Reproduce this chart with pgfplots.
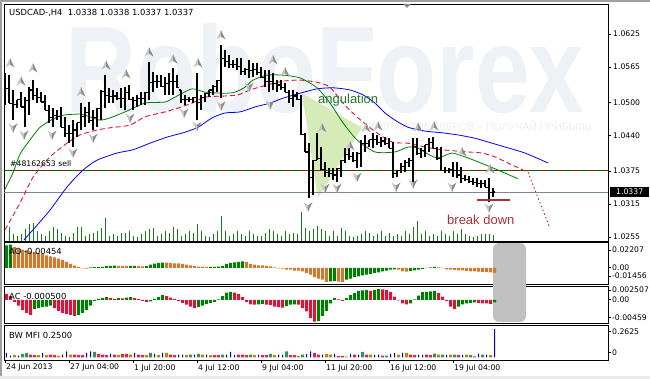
\documentclass[border=0pt]{standalone}
\usepackage{fontspec}
\setmainfont{DejaVu Sans}
\newfontfamily\arialf{Liberation Sans}
\usepackage{pgfplots}
\pgfplotsset{compat=1.18}
\usepackage{pgfplotstable}

\newcommand\lblfont{\fontsize{7.7}{9}\selectfont}
\newcommand\ttlfont{\fontsize{8.4}{10}\selectfont}

\definecolor{mtgreen}{HTML}{008000}
\definecolor{aoorange}{HTML}{D2782F}
\definecolor{accrim}{HTML}{DC143C}
\definecolor{mfigreen}{HTML}{3C8F5A}
\definecolor{mfibrown}{HTML}{B8860B}
\definecolor{mfiblue}{HTML}{000099}
\definecolor{mficrim}{HTML}{DC2450}
\definecolor{teeth}{HTML}{DC143C}
\definecolor{jaw}{HTML}{0000FF}
\definecolor{lips}{HTML}{008000}
\definecolor{bidline}{HTML}{778899}
\definecolor{ordgreen}{HTML}{006400}
\definecolor{ordred}{HTML}{CC0000}
\definecolor{bdred}{HTML}{A83232}
\definecolor{angtri}{HTML}{D6ECB8}
\definecolor{angtxt}{HTML}{2A7A2A}
\definecolor{wm}{HTML}{EEF1F5}
\definecolor{wmtwo}{HTML}{ECEFF3}
\definecolor{grayrect}{HTML}{C0C0C0}
\definecolor{fracl}{HTML}{C4C4C4}
\definecolor{fracd}{HTML}{8E8E8E}
\definecolor{volgreen}{HTML}{1A7A1A}
\definecolor{slate}{HTML}{7B8A9A}
\definecolor{outer}{HTML}{A0A0A0}

\pgfdeclareplotmark{fractup}{%
 \pgfsetfillcolor{fracl}%
 \pgfpathmoveto{\pgfqpoint{0pt}{5pt}}\pgfpathlineto{\pgfqpoint{-4.5pt}{-4.5pt}}\pgfpathlineto{\pgfqpoint{0pt}{-1.5pt}}\pgfpathclose\pgfusepathqfill
 \pgfsetfillcolor{fracd}%
 \pgfpathmoveto{\pgfqpoint{0pt}{5pt}}\pgfpathlineto{\pgfqpoint{4.5pt}{-4.5pt}}\pgfpathlineto{\pgfqpoint{0pt}{-1.5pt}}\pgfpathclose\pgfusepathqfill}
\pgfdeclareplotmark{fractdn}{%
 \pgfsetfillcolor{fracl}%
 \pgfpathmoveto{\pgfqpoint{0pt}{-5pt}}\pgfpathlineto{\pgfqpoint{-4.5pt}{4.5pt}}\pgfpathlineto{\pgfqpoint{0pt}{1.5pt}}\pgfpathclose\pgfusepathqfill
 \pgfsetfillcolor{fracd}%
 \pgfpathmoveto{\pgfqpoint{0pt}{-5pt}}\pgfpathlineto{\pgfqpoint{4.5pt}{4.5pt}}\pgfpathlineto{\pgfqpoint{0pt}{1.5pt}}\pgfpathclose\pgfusepathqfill}

\pgfplotsset{panel/.style={scale only axis, width=604pt, xmin=-0.25, xmax=150.75,
  axis line style={black, line width=0.8pt}, xtick=\empty, ytick=\empty}}

\pgfplotstableread{
i o h l c
0 1.0514 1.0554 1.0496 1.0525
1 1.0525 1.0550 1.0499 1.0499
2 1.0499 1.0523 1.0468 1.0497
3 1.0497 1.0505 1.0490 1.0505
4 1.0505 1.0519 1.0492 1.0492
5 1.0492 1.0510 1.0455 1.0503
6 1.0503 1.0528 1.0477 1.0523
7 1.0523 1.0541 1.0505 1.0513
8 1.0513 1.0527 1.0499 1.0510
9 1.0510 1.0519 1.0501 1.0501
10 1.0501 1.0514 1.0486 1.0486
11 1.0486 1.0496 1.0463 1.0473
12 1.0473 1.0490 1.0455 1.0477
13 1.0477 1.0486 1.0468 1.0474
14 1.0474 1.0492 1.0455 1.0455
15 1.0455 1.0474 1.0437 1.0443
16 1.0443 1.0459 1.0426 1.0444
17 1.0444 1.0468 1.0419 1.0450
18 1.0450 1.0463 1.0437 1.0463
19 1.0463 1.0499 1.0450 1.0474
20 1.0474 1.0492 1.0455 1.0482
21 1.0482 1.0501 1.0463 1.0468
22 1.0468 1.0486 1.0450 1.0473
23 1.0473 1.0490 1.0455 1.0490
24 1.0490 1.0523 1.0468 1.0520
25 1.0520 1.0550 1.0490 1.0513
26 1.0513 1.0527 1.0499 1.0511
27 1.0511 1.0523 1.0499 1.0512
28 1.0512 1.0519 1.0505 1.0508
29 1.0508 1.0527 1.0490 1.0507
30 1.0507 1.0528 1.0486 1.0518
31 1.0518 1.0532 1.0505 1.0505
32 1.0505 1.0510 1.0486 1.0503
33 1.0503 1.0514 1.0492 1.0507
34 1.0507 1.0519 1.0496 1.0507
35 1.0507 1.0519 1.0496 1.0519
36 1.0519 1.0574 1.0505 1.0537
37 1.0537 1.0556 1.0519 1.0538
38 1.0538 1.0550 1.0527 1.0539
39 1.0539 1.0550 1.0528 1.0530
40 1.0530 1.0547 1.0514 1.0534
41 1.0534 1.0554 1.0514 1.0538
42 1.0538 1.0563 1.0514 1.0538
43 1.0538 1.0550 1.0527 1.0527
44 1.0523 1.0523 1.0499 1.0505
45 1.0505 1.0514 1.0496 1.0506
46 1.0506 1.0510 1.0501 1.0505
47 1.0505 1.0510 1.0499 1.0510
48 1.0510 1.0554 1.0468 1.0500
49 1.0500 1.0514 1.0486 1.0509
50 1.0509 1.0517 1.0501 1.0517
51 1.0517 1.0523 1.0510 1.0523
52 1.0523 1.0532 1.0514 1.0530
53 1.0530 1.0541 1.0519 1.0541
54 1.0541 1.0605 1.0508 1.0580
55 1.0580 1.0596 1.0565 1.0575
56 1.0575 1.0587 1.0563 1.0570
57 1.0570 1.0578 1.0563 1.0570
58 1.0570 1.0581 1.0559 1.0566
59 1.0566 1.0581 1.0550 1.0557
60 1.0557 1.0563 1.0550 1.0561
61 1.0561 1.0578 1.0545 1.0559
62 1.0559 1.0572 1.0547 1.0561
63 1.0561 1.0572 1.0550 1.0555
64 1.0555 1.0565 1.0545 1.0545
65 1.0545 1.0559 1.0528 1.0539
66 1.0539 1.0559 1.0519 1.0538
67 1.0538 1.0554 1.0523 1.0534
68 1.0534 1.0541 1.0519 1.0532
69 1.0532 1.0541 1.0523 1.0527
70 1.0527 1.0536 1.0519 1.0519
71 1.0519 1.0523 1.0499 1.0507
72 1.0507 1.0523 1.0492 1.0512
73 1.0512 1.0519 1.0505 1.0505
74 1.0505 1.0514 1.0441 1.0441
75 1.0441 1.0445 1.0410 1.0410
76 1.0410 1.0426 1.0326 1.0363
77 1.0363 1.0395 1.0331 1.0395
78 1.0395 1.0445 1.0395 1.0398
79 1.0398 1.0419 1.0377 1.0378
80 1.0378 1.0392 1.0364 1.0372
81 1.0372 1.0381 1.0364 1.0370
82 1.0370 1.0381 1.0359 1.0368
83 1.0368 1.0381 1.0355 1.0380
84 1.0380 1.0395 1.0364 1.0395
85 1.0395 1.0417 1.0390 1.0406
86 1.0406 1.0417 1.0395 1.0401
87 1.0401 1.0410 1.0392 1.0395
88 1.0395 1.0410 1.0381 1.0407
89 1.0407 1.0432 1.0383 1.0425
90 1.0425 1.0441 1.0410 1.0425
91 1.0425 1.0432 1.0419 1.0432
92 1.0432 1.0445 1.0417 1.0432
93 1.0432 1.0441 1.0423 1.0428
94 1.0428 1.0437 1.0419 1.0430
95 1.0430 1.0437 1.0423 1.0426
96 1.0426 1.0435 1.0417 1.0417
97 1.0417 1.0428 1.0362 1.0371
98 1.0371 1.0377 1.0364 1.0377
99 1.0377 1.0390 1.0372 1.0384
100 1.0384 1.0395 1.0373 1.0391
101 1.0391 1.0399 1.0383 1.0394
102 1.0394 1.0435 1.0353 1.0420
103 1.0420 1.0435 1.0404 1.0408
104 1.0408 1.0417 1.0399 1.0412
105 1.0412 1.0423 1.0401 1.0423
106 1.0423 1.0435 1.0410 1.0427
107 1.0427 1.0437 1.0417 1.0417
108 1.0417 1.0419 1.0395 1.0398
109 1.0398 1.0419 1.0377 1.0377
110 1.0377 1.0383 1.0372 1.0376
111 1.0376 1.0381 1.0372 1.0378
112 1.0378 1.0392 1.0364 1.0377
113 1.0377 1.0392 1.0362 1.0368
114 1.0368 1.0383 1.0353 1.0362
115 1.0362 1.0368 1.0357 1.0360
116 1.0360 1.0366 1.0353 1.0356
117 1.0356 1.0362 1.0350 1.0354
118 1.0354 1.0362 1.0346 1.0352
119 1.0352 1.0359 1.0344 1.0352
120 1.0352 1.0359 1.0346 1.0346
121 1.0346 1.0362 1.0319 1.0336
122 1.0336 1.0344 1.0328 1.0337
}\ohlc

\pgfplotstableread{
i v
0 6500
1 7000
2 3500
3 2500
4 3500
5 6000
6 8500
7 9000
8 5000
9 3500
10 2500
11 5000
12 7000
13 6000
14 4000
15 2500
16 2000
17 4000
18 7000
19 7000
20 2500
21 3500
22 4000
23 5000
24 6500
25 11500
26 2500
27 3500
28 2500
29 4000
30 4000
31 5000
32 2500
33 2000
34 3500
35 5000
36 6000
37 6500
38 2500
39 3500
40 5000
41 4000
42 7000
43 6000
44 2500
45 3500
46 5000
47 4000
48 8500
49 5000
50 2500
51 2000
52 3500
53 5000
54 12500
55 5000
56 2500
57 3500
58 5000
59 3500
60 2500
61 5000
62 3500
63 2500
64 2500
65 4000
66 6000
67 5000
68 3500
69 2500
70 5000
71 3500
72 4000
73 3500
74 14500
75 6500
76 5000
77 6000
78 7500
79 6000
80 5000
81 2500
82 5000
83 2500
84 6500
85 5000
86 2500
87 2000
88 2500
89 3500
90 5000
91 4000
92 2500
93 3500
94 5000
95 2500
96 4000
97 2500
98 3500
99 2500
100 5000
101 3500
102 7000
103 10000
104 3500
105 5000
106 2500
107 3500
108 2500
109 5000
110 3500
111 2500
112 5000
113 3500
114 6000
115 3500
116 2500
117 2000
118 2500
119 3500
120 3500
121 3500
122 3000
}\vol

\begin{document}
\begin{tikzpicture}
\useasboundingbox (0pt,0pt) rectangle (650pt,379pt);
\fill[white] (0pt,0pt) rectangle (650pt,379pt);
\fill[outer] (0pt,377pt) rectangle (650pt,379pt);
\fill[outer] (0pt,0pt) rectangle (1.5pt,379pt);
\fill[black!8] (0pt,0pt) rectangle (650pt,3pt);

% watermark
\node[anchor=base west, inner sep=0pt, text=wm, font=\arialf\bfseries\fontsize{123}{123}\selectfont, xscale=0.8] at (65pt,266pt) {RoboForex};
\node[anchor=east, inner sep=0pt, text=wmtwo, font=\arialf\fontsize{10.5}{12}\selectfont] at (592pt,252pt) {КОПИРУЙ ТРЕЙДЕРОВ – ПОЛУЧАЙ ПРИБЫЛЬ};

% gray rounded box behind indicator windows
\fill[grayrect, rounded corners=6pt] (493pt,57pt) rectangle (526pt,136pt);

% volumes
\begin{axis}[at={(4pt,138pt)}, anchor=south west, scale only axis, width=604pt, height=237pt,
  xmin=-0.25, xmax=150.75, ymin=0, ymax=118500, hide axis]
\addplot[ycomb, volgreen, line width=1pt, mark=none] table[x=i, y=v] {\vol};
\end{axis}

% main price window
\begin{axis}[panel, at={(4pt,138pt)}, anchor=south west, height=237pt, ymin=1.02477, ymax=1.06797,
  ytick={1.0255,1.0315,1.0375,1.0440,1.0500,1.0565,1.0625},
  yticklabels={1.0255,1.0315,1.0375,1.0440,1.0500,1.0565,1.0625},
  ytick pos=right, yticklabel pos=right, tick align=outside, major tick length=3pt,
  tick style={black, line width=0.6pt},
  yticklabel style={font=\lblfont, inner sep=0pt, anchor=west, xshift=2pt}]
% angulation triangle
\addplot[fill=angtri, draw=none] coordinates {(74.25,1.0517) (89.25,1.0454) (78.25,1.0326)} -- cycle;
% order line and bid line
\addplot[ordred, line width=1.3pt] coordinates {(-0.25,1.0376) (150.75,1.0376)};
\addplot[ordgreen, line width=1.3pt, dash pattern=on 8pt off 3pt on 2pt off 3pt] coordinates {(-0.25,1.0376) (150.75,1.0376)};
\addplot[bidline, line width=0.8pt] coordinates {(-0.25,1.0337) (150.75,1.0337)};
% alligator
\addplot[jaw, line width=0.8pt, smooth, tension=0.4] coordinates {(4.75,1.0250) (7,1.0268) (11.25,1.0304) (15.5,1.0346) (19.5,1.0377) (23,1.0395) (28,1.0408) (32,1.0414) (36.25,1.0426) (40.5,1.0437) (45,1.0446) (48.25,1.0455) (51.75,1.0472) (55,1.0481) (58.75,1.0483) (62.5,1.0492) (66.25,1.0499) (69.5,1.0508) (73.75,1.0517) (78,1.0525) (82,1.0527) (86.25,1.0523) (89.5,1.0514) (92.5,1.0499) (95,1.0481) (97.5,1.0468) (100.75,1.0455) (105,1.0448) (109.25,1.0445) (113.25,1.0441) (117.5,1.0435) (121.75,1.0426) (125,1.0419) (130,1.0408) (135.75,1.0390)};
\addplot[teeth, line width=0.9pt, dash pattern=on 5pt off 3pt, smooth, tension=0.4] coordinates {(0,1.0268) (3.75,1.0317) (7,1.0364) (11.25,1.0401) (15.5,1.0426) (18.75,1.0441) (23,1.0450) (26.25,1.0454) (31.25,1.0459) (35,1.0474) (40,1.0483) (43.25,1.0490) (46.75,1.0499) (50,1.0510) (55,1.0512) (58.25,1.0514) (61.25,1.0523) (65.5,1.0532) (69.5,1.0539) (73.75,1.0541) (78,1.0537) (81.25,1.0528) (84.5,1.0499) (88,1.0474) (92,1.0450) (96.75,1.0428) (100.75,1.0426) (105,1.0419) (109.25,1.0414) (115.75,1.0410) (119.25,1.0408) (122.5,1.0401) (126.25,1.0388) (130.75,1.0373)};
\addplot[lips, line width=0.8pt, smooth, tension=0.4] coordinates {(-0.25,1.0339) (2,1.0372) (3.75,1.0406) (6.25,1.0432) (8.75,1.0455) (12,1.0470) (14.5,1.0477) (18.75,1.0479) (21.25,1.0474) (23.75,1.0468) (26.25,1.0472) (30,1.0483) (35,1.0499) (40,1.0501) (42.5,1.0510) (46.75,1.0525) (50,1.0519) (55,1.0517) (57.5,1.0519) (60,1.0528) (62,1.0541) (65.5,1.0550) (69.5,1.0550) (73.75,1.0545) (78,1.0527) (81.25,1.0499) (84.5,1.0463) (88,1.0432) (92.5,1.0410) (97.5,1.0410) (100.75,1.0419) (103.25,1.0417) (105.75,1.0406) (108.25,1.0399) (111.75,1.0408) (115,1.0401) (118.25,1.0392) (123.25,1.0377) (128.25,1.0361)};
% forecast
\addplot[bdred, line width=0.9pt, dash pattern=on 1.5pt off 2.5pt] coordinates {(130.75,1.0373) (136.25,1.0271)};
% OHLC bars: high-low range, open tick (left), close tick (right)
\addplot[draw=none, mark=none, error bars/.cd, y dir=plus, y explicit, error mark=none,
  error bar style={draw=black, solid, line width=1.1pt}] table[x=i, y=l, y error expr=\thisrow{h}-\thisrow{l}] {\ohlc};
\addplot[draw=none, mark=none, error bars/.cd, x dir=minus, x fixed=0.5, error mark=none,
  error bar style={draw=black, solid, line width=1.1pt}] table[x=i, y=o] {\ohlc};
\addplot[draw=none, mark=none, error bars/.cd, x dir=plus, x fixed=0.5, error mark=none,
  error bar style={draw=black, solid, line width=1.1pt}] table[x=i, y=c] {\ohlc};
% fractals
\addplot[only marks, mark=fractup] coordinates {(1.25,1.0572) (4,1.0539) (7,1.0563) (19,1.0519) (25.25,1.0568) (30.25,1.0552) (36,1.0592) (42,1.0579) (48.25,1.0572) (54,1.0623) (67,1.0578) (70,1.0556) (79.25,1.0454) (86.25,1.0421) (90.25,1.0454) (93.25,1.0457) (103.25,1.0455) (107.25,1.0457) (114.25,1.0410) (121.25,1.0379)};
\addplot[only marks, mark=fractdn] coordinates {(2,1.0454) (4.75,1.0441) (11.75,1.0441) (17,1.0408) (22,1.0435) (31.25,1.0472) (44.75,1.0481) (48,1.0457) (54,1.0494) (61,1.0528) (66.25,1.0496) (75.75,1.0310) (80,1.0344) (83,1.0344) (88,1.0364) (97.75,1.0346) (102,1.0352) (111.75,1.0346) (121,1.0308)};
% break down
\addplot[bdred, line width=2.5pt] coordinates {(118,1.0322) (126.25,1.0322)};
\node[anchor=west, inner sep=0pt, text=bdred, font=\arialf\fontsize{13}{15}\selectfont] at (axis cs:110.5,1.0286) {break down};
\node[anchor=west, inner sep=0pt, text=angtxt, font=\arialf\fontsize{13}{15}\selectfont] at (axis cs:78.25,1.0505) {angulation};
\node[anchor=west, inner sep=0pt, font=\lblfont] at (axis cs:1.25,1.0388) {\#48162653 sell};
\end{axis}

% AO window
\begin{axis}[panel, at={(4pt,95pt)}, anchor=south west, height=42pt, ymin=-0.0147, ymax=0.0238]
\addplot[ybar, bar width=3pt, bar shift=1.5pt, fill=mtgreen, draw=none] coordinates {(0,0.0208) (1,0.0213) (21,0.0006) (22,0.0007) (23,0.0008) (24,0.0009) (25,0.0016) (26,0.0018) (27,0.0021) (31,0.0019) (32,0.0020) (35,0.0017) (36,0.0031) (37,0.0039) (38,0.0046) (39,0.0049) (51,0.0010) (52,0.0011) (53,0.0013) (54,0.0018) (55,0.0037) (56,0.0046) (57,0.0052) (58,0.0055) (59,0.0061) (81,-0.0122) (82,-0.0120) (85,-0.0107) (86,-0.0098) (87,-0.0085) (88,-0.0076) (89,-0.0067) (90,-0.0061) (91,-0.0055) (92,-0.0046) (93,-0.0040) (94,-0.0031) (95,-0.0024) (96,-0.0015) (97,-0.0014) (101,-0.0030) (102,-0.0021) (103,-0.0015) (104,-0.0009) (105,0.0001) (106,0.0006) (107,0.0009)};
\addplot[ybar, bar width=3pt, bar shift=1.5pt, fill=aoorange, draw=none] coordinates {(2,0.0190) (3,0.0177) (4,0.0168) (5,0.0162) (6,0.0153) (7,0.0147) (8,0.0137) (9,0.0128) (10,0.0116) (11,0.0107) (12,0.0098) (13,0.0085) (14,0.0073) (15,0.0055) (16,0.0037) (17,0.0021) (18,0.0009) (19,-0.0003) (20,-0.0005) (28,0.0020) (29,0.0019) (30,0.0018) (33,0.0017) (34,0.0015) (40,0.0048) (41,0.0045) (42,0.0043) (43,0.0042) (44,0.0037) (45,0.0031) (46,0.0024) (47,0.0018) (48,0.0012) (49,0.0010) (50,0.0009) (60,0.0055) (61,0.0037) (62,0.0031) (63,0.0024) (64,0.0023) (65,0.0018) (66,0.0015) (67,0.0006) (68,-0.0003) (69,-0.0006) (70,-0.0015) (71,-0.0016) (72,-0.0024) (73,-0.0025) (74,-0.0031) (75,-0.0046) (76,-0.0061) (77,-0.0085) (78,-0.0098) (79,-0.0107) (80,-0.0128) (83,-0.0126) (84,-0.0130) (98,-0.0016) (99,-0.0031) (100,-0.0033) (108,0.0006) (109,-0.0001) (110,-0.0012) (111,-0.0015) (112,-0.0018) (113,-0.0021) (114,-0.0022) (115,-0.0027) (116,-0.0031) (117,-0.0032) (118,-0.0034) (119,-0.0037) (120,-0.0038) (121,-0.0041) (122,-0.00454)};
\end{axis}

% AC window
\begin{axis}[panel, at={(4pt,56pt)}, anchor=south west, height=37pt, ymin=-0.0048, ymax=0.0029]
\addplot[ybar, bar width=3pt, bar shift=1.5pt, fill=mtgreen, draw=none] coordinates {(7,-0.0019) (8,-0.0017) (9,-0.0015) (10,-0.0014) (11,-0.0012) (18,-0.0031) (19,-0.0027) (20,-0.0021) (21,-0.0012) (22,-0.0002) (23,0.0002) (24,0.0004) (25,0.0006) (28,0.0004) (30,0.0005) (31,0.0006) (36,-0.0003) (37,0.0002) (38,0.0006) (39,0.0010) (48,-0.0015) (49,-0.0012) (50,-0.0008) (51,-0.0006) (52,-0.0004) (53,0.0001) (54,0.0008) (55,0.0015) (56,0.0017) (63,-0.0009) (64,-0.0008) (70,-0.0013) (71,-0.0010) (72,-0.0009) (78,-0.0044) (79,-0.0033) (80,-0.0023) (81,-0.0007) (82,0.0004) (85,0.0004) (86,0.0010) (87,0.0014) (88,0.0019) (89,0.0020) (90,0.00205) (92,0.0021) (93,0.0023) (101,-0.0007) (102,0.0001) (103,0.0009) (104,0.0016) (105,0.0017) (106,0.0018) (107,0.0019) (113,-0.0014) (114,-0.0009) (115,-0.0007) (116,-0.0006) (117,-0.0005) (122,-0.0005)};
\addplot[ybar, bar width=3pt, bar shift=1.5pt, fill=accrim, draw=none] coordinates {(0,0.00125) (1,0.0008) (2,-0.0004) (3,-0.0012) (4,-0.0021) (5,-0.0027) (6,-0.0031) (12,-0.0017) (13,-0.0023) (14,-0.0027) (15,-0.0029) (16,-0.0031) (17,-0.0033) (26,0.0004) (27,0.0002) (29,0.0003) (32,0.0004) (33,0.0002) (34,-0.0002) (35,-0.0004) (40,0.0008) (41,0.0005) (42,0.0002) (43,-0.0002) (44,-0.0006) (45,-0.0010) (46,-0.0014) (47,-0.0017) (57,0.0015) (58,0.0012) (59,0.0006) (60,-0.0004) (61,-0.0009) (62,-0.0010) (65,-0.0010) (66,-0.0011) (67,-0.0014) (68,-0.0015) (69,-0.0016) (73,-0.0010) (74,-0.0017) (75,-0.0024) (76,-0.0038) (77,-0.0045) (83,0.0001) (84,-0.0002) (91,0.0019) (94,0.0022) (95,0.0021) (96,0.0017) (97,0.0007) (98,-0.0001) (99,-0.0007) (100,-0.0009) (108,0.0014) (109,0.0007) (110,-0.0002) (111,-0.0014) (112,-0.0019) (118,-0.0006) (119,-0.0007) (120,-0.0007) (121,-0.0008)};
\end{axis}

% BW MFI window
\begin{axis}[panel, at={(4pt,19pt)}, anchor=south west, height=35pt, ymin=-0.0237, ymax=0.2833,
  xtick={0,16,32,48,64,80,96,112},
  xticklabels={24 Jun 2013,27 Jun 04:00,1 Jul 20:00,4 Jul 12:00,9 Jul 04:00,11 Jul 20:00,16 Jul 12:00,19 Jul 04:00},
  xtick pos=lower, tick align=outside, major tick length=3pt, tick style={black, line width=0.6pt},
  xticklabel style={font=\lblfont, anchor=north west, inner sep=0pt, xshift=1pt, yshift=-1pt}]
\addplot[ybar, bar width=3pt, bar shift=1.5pt, fill=mfigreen, draw=none] coordinates {(4,0.029) (5,0.038) (22,0.047) (36,0.038) (46,0.023) (48,0.029) (54,0.023) (61,0.023) (66,0.029) (70,0.053) (74,0.023) (89,0.047) (95,0.015) (107,0.032) (109,0.023) (112,0.023) (116,0.018) (119,0.023)};
\addplot[ybar, bar width=3pt, bar shift=1.5pt, fill=mfibrown, draw=none] coordinates {(2,0.018) (8,0.018) (10,0.018) (13,0.012) (16,0.023) (28,0.018) (31,0.023) (35,0.018) (38,0.018) (40,0.038) (45,0.018) (49,0.023) (51,0.018) (62,0.018) (67,0.018) (73,0.012) (80,0.029) (81,0.023) (85,0.006) (91,0.023) (98,0.023) (100,0.038) (108,0.023) (111,0.023) (115,0.023) (121,0.018)};
\addplot[ybar, bar width=3pt, bar shift=1.5pt, fill=mficrim, draw=none] coordinates {(6,0.023) (7,0.018) (11,0.023) (12,0.018) (17,0.023) (18,0.018) (19,0.018) (23,0.029) (24,0.023) (25,0.018) (27,0.023) (29,0.029) (30,0.029) (33,0.023) (34,0.018) (41,0.023) (42,0.018) (52,0.018) (53,0.018) (58,0.023) (59,0.023) (60,0.018) (64,0.018) (65,0.018) (71,0.018) (72,0.018) (77,0.038) (78,0.023) (83,0.012) (84,0.012) (87,0.023) (90,0.023) (94,0.015) (101,0.023) (102,0.018) (105,0.023) (106,0.018) (113,0.018) (117,0.009)};
\addplot[ybar, bar width=1pt, bar shift=1.5pt, fill=mfiblue, draw=none] coordinates {(0,0.038) (1,0.015) (3,0.015) (9,0.038) (14,0.023) (15,0.053) (20,0.038) (21,0.053) (26,0.029) (32,0.038) (37,0.029) (39,0.038) (43,0.023) (44,0.023) (47,0.023) (50,0.023) (55,0.023) (56,0.047) (57,0.018) (63,0.023) (68,0.023) (69,0.018) (75,0.029) (76,0.053) (79,0.023) (82,0.029) (86,0.029) (88,0.023) (92,0.018) (93,0.023) (96,0.029) (97,0.038) (99,0.038) (103,0.023) (104,0.018) (110,0.018) (114,0.018) (118,0.029) (120,0.023) (122,0.25)};
\end{axis}

% cover frame lines under the gray box
\fill[grayrect] (493pt,92pt) rectangle (526pt,97pt);
% chart shift marker
\fill[slate] (403pt,375pt) -- (411pt,375pt) -- (407pt,371pt) -- cycle;

% texts
\node[anchor=west, inner sep=0pt, font=\ttlfont] at (9pt,366pt) {USDCAD-,H4\ \ 1.0338 1.0338 1.0337 1.0337};
\node[anchor=west, inner sep=0pt, font=\ttlfont] at (9pt,127.5pt) {AO -0.00454};
\node[anchor=west, inner sep=0pt, font=\ttlfont] at (9pt,82.5pt) {AC -0.000500};
\node[anchor=west, inner sep=0pt, font=\ttlfont] at (9pt,44pt) {BW MFI 0.2500};

% current price
\node[fill=black, text=white, anchor=west, inner xsep=0pt, inner ysep=0pt, minimum height=10.5pt, minimum width=39pt, font=\lblfont] at (610pt,187pt) {1.0337};

% indicator scale labels
\foreach \yy/\tt in {129/0.02207, 111.3/0.00, 103/-0.01456, 89/0.002507, 79.7/0.00, 61.7/-0.00459, 47.3/0.2625, 26.7/0}{
  \draw[black, line width=0.6pt] (608pt,\yy pt) -- (611pt,\yy pt);
  \node[anchor=west, inner sep=0pt, font=\lblfont] at (612pt,\yy pt) {\tt};
}
\end{tikzpicture}
\end{document}
